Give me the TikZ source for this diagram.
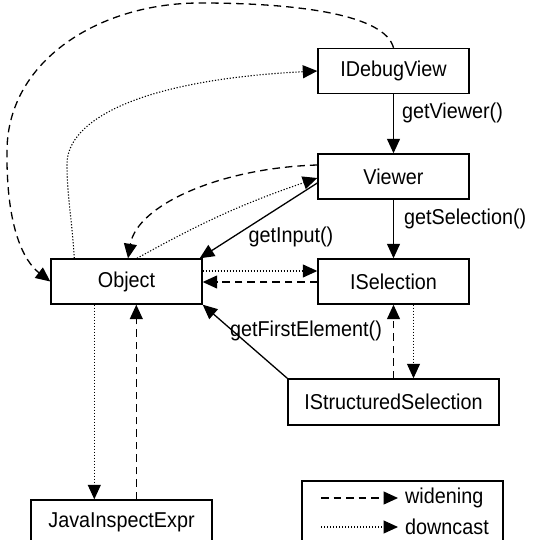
\documentclass[tikz,border=0pt]{standalone}
\usepackage{fontspec}
\setmainfont{Liberation Sans}[FakeStretch=0.92]
\usetikzlibrary{arrows.meta,calc}
\begin{document}
\begin{tikzpicture}[x=1pt,y=-1pt,
  txt/.style={font=\fontsize{21.5}{24}\selectfont},
  box/.style={draw, line width=1.4pt, minimum width=151pt, minimum height=45pt, inner sep=0pt, txt},
  lbl/.style={inner sep=0pt, txt},
  arr/.style={line width=1.3pt, -{Triangle[length=14.5pt,width=13pt]}},
  wide/.style={arr, dash pattern=on 7.5pt off 5pt},
  down/.style={arr, line width=1.1pt, dash pattern=on 1.2pt off 1.8pt}]
\useasboundingbox (0,0) rectangle (536,540);

\node[box] (dbg) at (393.5,71) {IDebugView};
\node[box] (view) at (393.5,176.5) {Viewer};
\node[box] (sel) at (393.5,281.5) {ISelection};
\node[box] (obj) at (126.5,281.5) {Object};
\node[box, minimum width=211pt, minimum height=46pt] (ssel) at (393.5,402) {IStructuredSelection};
\node[box, minimum width=181pt] (jie) at (121.5,522.5) {JavaInspectExpr};
\node[draw, line width=1.4pt, minimum width=201pt, minimum height=64pt, inner sep=0pt] (leg) at (402.5,513) {};

% solid method calls
\draw[arr] (dbg.south) -- node[lbl, pos=0.32, anchor=west, xshift=8pt] (l1) {getViewer()} (view.north);
\draw[arr] (view.south) -- node[lbl, pos=0.33, anchor=west, xshift=10pt] (l2) {getSelection()} (sel.north);
\draw[arr] ($(view.west)+(0,6.5)$) -- ($(obj.north east)+(-3,0)$);
\node[lbl] (l3) at (291,237) {getInput()};
\draw[arr] (ssel.north west) -- (obj.south east);
\node[lbl] (l4) at (306,331) {getFirstElement()};

% widening / downcast pairs
\draw[wide] (dbg.north) .. controls (385,15) and (300,3) .. (200,3)
  .. controls (100,3) and (8,60) .. (7,150)
  .. controls (6,230) and (25,262) .. (obj.west);
\draw[down] ($(obj.north west)+(24,0)$) .. controls (72,220) and (67,195) .. (67,165)
  .. controls (66,120) and (140,80) .. (dbg.west);

\draw[wide] ($(view.west)+(0,-11.5)$) .. controls (220,168) and (137,205) .. ($(obj.north)+(1.5,0)$);
\draw[down] ($(obj.north)+(10.5,0)$) to[bend left=5] ($(view.west)+(0,1.5)$);

\draw[down] ($(obj.east)+(0,-10.5)$) -- ($(sel.west)+(0,-10.5)$);
\draw[wide] ($(sel.west)+(0,0.5)$) -- ($(obj.east)+(0,0.5)$);

\draw[down] ($(obj.south west)+(44,0)$) -- ($(jie.north west)+(64,0)$);
\draw[wide] ($(jie.north west)+(106,0)$) -- ($(obj.south west)+(86,0)$);

\draw[wide] (ssel.north) -- (sel.south);
\draw[down] ($(sel.south)+(20,0)$) -- ($(ssel.north)+(20,0)$);

% legend
\coordinate (w1) at (321,498);
\coordinate (w2) at (398,498);
\coordinate (d1) at (321,527);
\coordinate (d2) at (398,527);
\draw[wide] (w1) -- (w2);
\draw[down] (d1) -- (d2);
\node[lbl, anchor=west] (wl) at (405,498) {widening};
\node[lbl, anchor=west] (dl) at (405,527) {downcast};
\end{tikzpicture}
\end{document}
